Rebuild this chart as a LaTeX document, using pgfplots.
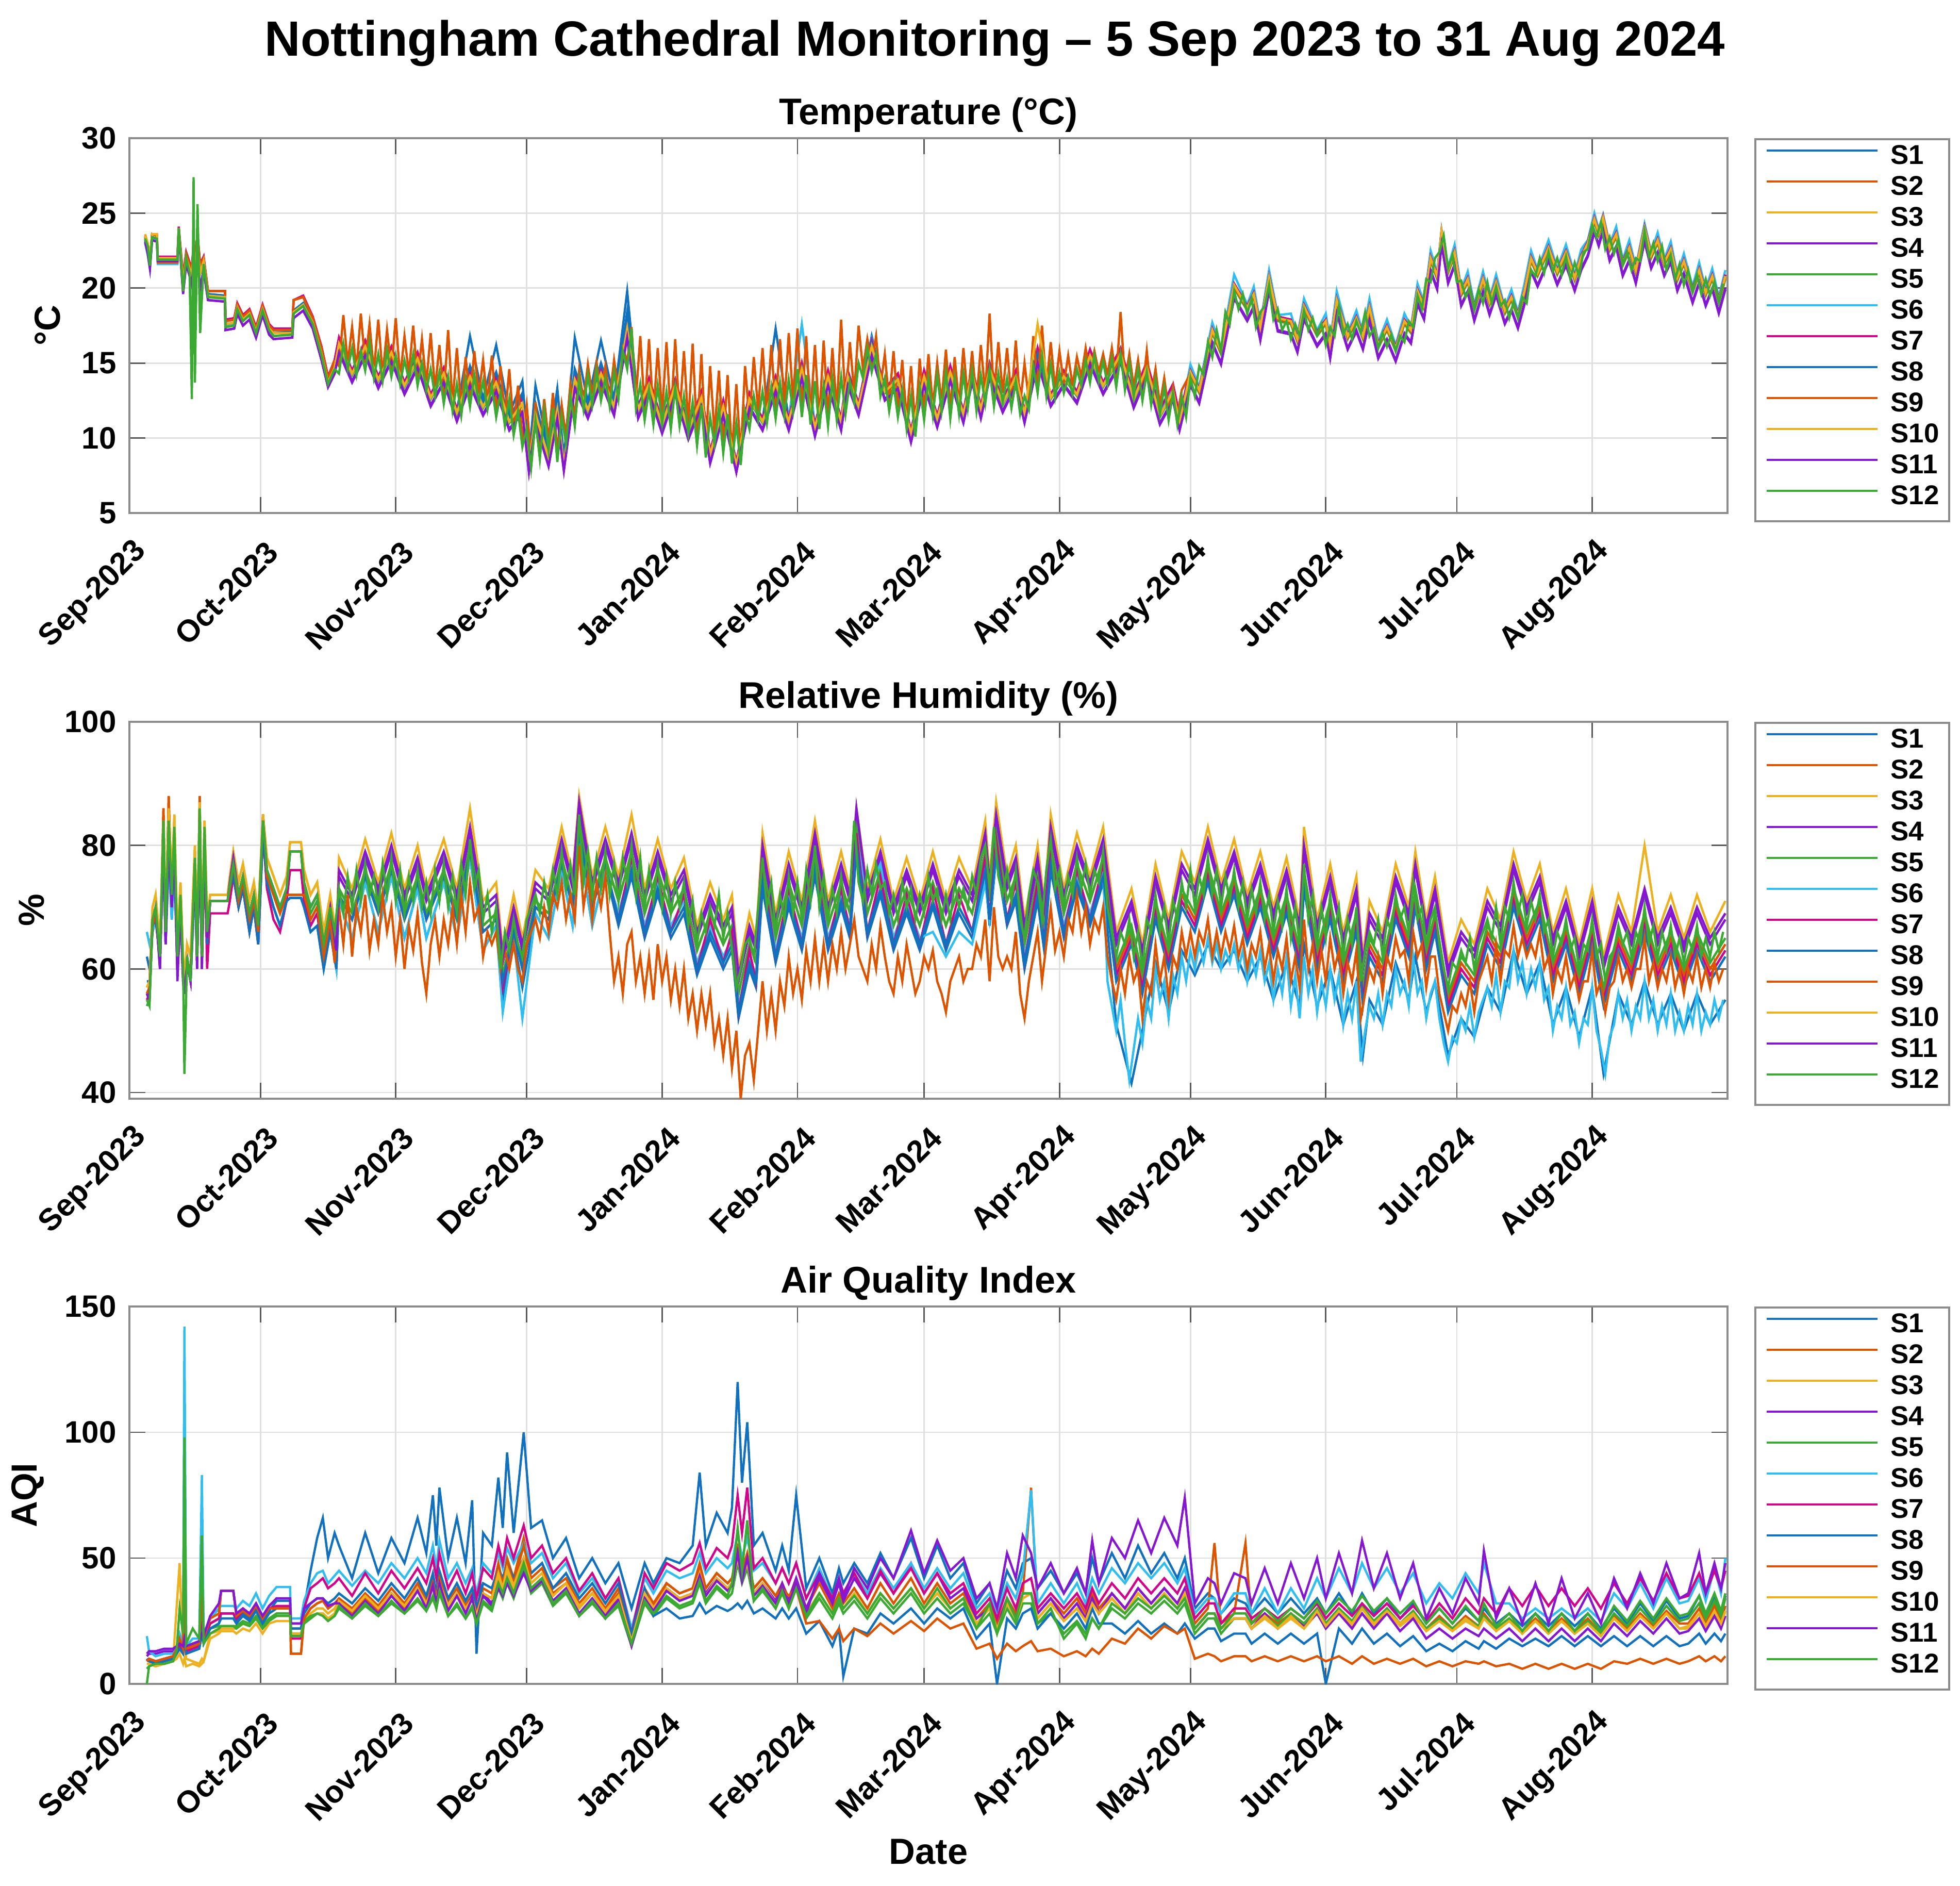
\documentclass[border=0pt]{standalone}
\usepackage{fontspec}
\setmainfont{Liberation Sans}
\usepackage{pgfplots}
\usepackage{pgfplotstable}
\pgfplotsset{compat=1.18}
\definecolor{c1}{rgb}{0.066,0.443,0.745}
\definecolor{c2}{rgb}{0.866,0.329,0}
\definecolor{c3}{rgb}{0.929,0.694,0.125}
\definecolor{c4}{rgb}{0.521,0.086,0.819}
\definecolor{c5}{rgb}{0.231,0.666,0.196}
\definecolor{c6}{rgb}{0.184,0.745,0.937}
\definecolor{c7}{rgb}{0.819,0.015,0.545}
\colorlet{c8}{c1}\colorlet{c9}{c2}\colorlet{c10}{c3}\colorlet{c11}{c4}\colorlet{c12}{c5}
\definecolor{axgrey}{rgb}{0.55,0.55,0.55}
\newcommand{\tickfont}{\fontsize{7.5}{9}\selectfont\bfseries}
\newcommand{\labfont}{\fontsize{8.8}{10}\selectfont\bfseries}
\newcommand{\legfont}{\fontsize{6.6}{7.5}\selectfont\bfseries}

\pgfplotstableread{
d s1 s2 s3 s4 s5 s6 s7 s8 s9 s10 s11 s12
3.6 23.3 23.4 23.6 23.0 23.4 23.0 23.5 23.2 23.4 23.5 23.1 23.3
4.2 22.6 22.9 23.0 22.4 22.8 22.2 22.9 22.6 22.9 23.0 22.3 22.8
4.7 21.6 21.8 21.9 21.4 21.5 21.3 21.8 21.6 21.8 21.9 21.3 21.5
5.2 23.4 23.6 23.6 23.2 23.4 23.3 23.6 23.4 23.6 23.6 23.2 23.4
6.3 23.3 23.5 23.6 23.1 23.3 23.2 23.5 23.3 23.5 23.6 23.1 23.3
6.5 21.9 21.8 22.0 21.8 21.9 21.6 22.1 21.9 21.7 22.0 21.8 21.9
11.0 21.9 21.8 22.0 21.8 21.9 21.6 22.1 21.9 21.7 22.0 21.8 21.9
11.3 23.8 23.9 24.0 23.8 24.0 23.6 24.1 23.8 23.9 24.0 23.7 24.0
12.3 20.5 20.6 20.3 19.6 19.8 20.4 20.8 20.5 20.6 20.3 19.7 19.8
13.0 22.2 22.3 22.0 21.6 22.0 22.1 22.4 22.2 22.3 22.0 21.6 22.0
13.8 21.5 21.6 21.3 20.8 21.0 21.4 21.7 21.5 21.6 21.3 20.8 21.0
14.3 21.0 21.2 20.8 20.2 14.0 21.0 21.3 21.0 21.2 20.8 20.2 12.6
14.7 22.5 22.8 22.4 21.8 25.0 22.6 23.0 22.5 22.8 22.4 21.8 27.4
15.0 21.5 21.8 21.4 20.8 16.0 21.6 22.0 21.5 21.8 21.4 20.8 13.7
15.6 22.8 23.6 22.8 22.0 24.0 23.0 23.5 22.8 23.6 22.8 22.0 25.6
16.2 21.0 21.5 21.0 20.0 19.0 21.2 21.6 21.0 21.5 21.0 20.0 17.0
17.0 21.8 22.0 21.8 21.2 21.6 21.9 22.1 21.8 22.0 21.8 21.2 21.6
18.0 19.6 19.8 19.5 19.2 19.4 19.5 19.8 19.6 19.8 19.5 19.2 19.4
21.9 19.5 19.8 19.4 19.1 19.3 19.4 19.8 19.5 19.8 19.4 19.1 19.3
22.0 17.6 17.8 17.6 17.2 17.4 17.5 17.9 17.6 17.8 17.6 17.2 17.4
24.0 17.7 17.9 17.7 17.3 17.5 17.6 18.0 17.7 17.9 17.7 17.3 17.5
24.7 18.8 18.9 18.7 18.3 18.6 18.8 19.0 18.8 18.9 18.7 18.3 18.6
26.0 18.0 18.1 17.9 17.5 17.8 18.0 18.2 18.0 18.1 17.9 17.5 17.8
27.5 18.4 18.5 18.3 17.9 18.2 18.4 18.6 18.4 18.5 18.3 17.9 18.2
29.0 17.2 17.3 17.1 16.7 17.0 17.2 17.4 17.2 17.3 17.1 16.7 17.0
30.5 18.7 18.8 18.6 18.2 18.5 18.7 18.9 18.7 18.8 18.6 18.2 18.5
32.0 17.4 17.5 17.3 16.9 17.2 17.4 17.6 17.4 17.5 17.3 16.9 17.2
33.0 17.0 17.2 17.0 16.6 16.8 17.0 17.3 17.0 17.2 17.0 16.6 16.8
37.3 17.1 17.2 17.0 16.7 16.9 17.1 17.3 17.1 17.2 17.0 16.7 16.9
37.6 18.5 19.2 18.4 18.0 18.3 18.5 19.2 18.5 19.2 18.4 18.0 18.3
39.8 19.0 19.4 18.9 18.5 18.8 19.0 19.5 19.0 19.4 18.9 18.5 18.8
42.0 17.8 18.0 17.7 17.3 17.6 17.8 18.1 17.8 18.0 17.7 17.3 17.6
44.0 15.7 16.0 15.6 15.2 15.5 15.7 16.1 15.7 16.0 15.6 15.2 15.5
45.5 13.8 14.0 13.7 13.4 13.6 13.8 14.1 13.8 14.0 13.7 13.4 13.6
47.0 14.8 15.2 14.7 14.3 14.6 14.8 15.2 14.8 15.2 14.7 14.3 14.6
48 16.4 16.7 16.3 15.8 16.2 16.5 16.7 16.3 18.4 16.3 15.7 16.2
51 14.4 14.4 14.3 13.8 14.2 14.5 14.5 14.3 14.6 14.3 13.7 14.2
54 16.2 16.5 16.1 15.6 16.0 16.3 16.5 16.1 17.8 16.1 15.5 16.0
57 14.0 14.0 13.9 13.4 13.8 14.1 14.1 13.9 14.2 13.9 13.3 13.8
60 15.8 16.1 15.7 15.2 15.6 15.9 16.1 15.7 18.0 15.7 15.1 15.6
63 13.6 13.6 13.5 13.0 13.4 13.7 13.7 13.5 13.8 13.5 12.9 13.4
66 15.4 15.7 15.3 14.8 15.2 15.5 15.7 15.3 17.0 15.3 14.7 15.2
69 12.8 12.8 12.7 12.2 12.6 12.9 12.9 12.7 13.0 12.7 12.1 12.6
72 14.4 14.7 14.3 13.8 14.2 14.5 14.7 14.3 17.2 14.3 13.7 14.2
75 11.8 11.8 11.7 11.2 11.6 11.9 11.9 11.7 12.0 11.7 11.1 11.6
78 16.8 14.5 14.1 13.6 14.0 14.6 14.5 14.8 15.5 14.1 13.5 14.0
81 12.6 12.2 12.1 11.6 12.0 12.3 12.3 12.3 12.4 12.1 11.5 12.0
84 16.2 14.1 13.7 13.2 13.6 14.2 14.1 14.4 15.2 13.7 13.1 13.6
87 11.6 11.2 11.1 10.6 11.0 11.3 11.3 11.3 11.4 11.1 10.5 11.0
90 13.8 12.7 12.3 11.8 12.2 12.8 12.7 13.0 13.0 12.3 11.7 12.2
91.5 8.6 8.2 8.1 7.8 8.0 8.3 8.3 8.3 8.4 8.1 7.7 8.0
93 13.5 12.0 11.6 11.1 11.5 12.1 12.0 12.3 12.2 11.6 11.0 11.5
96 9.2 8.8 8.7 8.2 8.6 8.9 8.9 8.9 9.0 8.7 8.1 8.6
98 13.3 12.3 11.9 11.4 11.8 12.4 12.3 12.6 12.5 11.9 11.3 11.8
99.5 8.7 8.3 8.2 7.9 8.1 8.4 8.4 8.4 8.5 8.2 7.8 8.1
102 16.7 14.3 13.9 13.4 13.8 14.4 14.3 14.6 14.5 13.9 13.3 13.8
105 12.4 12.0 11.9 11.4 11.8 12.1 12.1 12.1 12.2 11.9 11.3 11.8
108 16.5 14.7 14.3 13.8 14.2 14.8 14.7 15.0 15.0 14.3 13.7 14.2
111 12.6 12.2 12.1 11.6 12.0 12.3 12.3 12.3 12.4 12.1 11.5 12.0
114 19.8 17.7 17.3 16.8 17.2 17.8 17.7 18.4 18.0 17.3 16.7 17.2
116.5 12.2 12.0 11.9 11.4 11.8 12.1 12.1 12.0 12.2 11.9 11.3 11.8
119 13.7 14.0 13.6 13.1 13.5 13.8 14.0 13.6 16.8 13.6 13.0 13.5
122 11.0 11.0 10.9 10.4 10.8 11.1 11.1 10.9 11.2 10.9 10.3 10.8
125 13.6 13.9 13.5 13.0 13.4 13.7 13.9 13.5 16.6 13.5 12.9 13.4
128 10.6 10.6 10.5 10.0 10.4 10.7 10.7 10.5 10.8 10.5 9.9 10.4
131 12.8 13.1 12.7 12.2 12.6 12.9 13.1 12.7 16.3 12.7 12.1 12.6
133 9.0 9.0 8.9 8.4 8.8 9.1 9.1 8.9 9.2 8.9 8.3 8.8
136 12.2 12.5 12.1 11.6 12.0 12.3 12.5 12.1 14.5 12.1 11.5 12.0
139 8.3 8.3 8.2 7.8 8.1 8.4 8.4 8.2 8.5 8.2 7.7 8.1
142 12.7 13.0 12.6 12.1 12.5 12.8 13.0 12.6 14.8 12.6 12.0 12.5
145 11.2 11.2 11.1 10.6 11.0 11.3 11.3 11.1 11.4 11.1 10.5 11.0
148 17.3 14.1 13.7 13.2 13.6 14.0 14.1 13.8 16.2 13.7 13.1 13.6
151 11.2 11.2 11.1 10.6 11.0 11.3 11.3 11.1 11.4 11.1 10.5 11.0
154 14.8 15.0 14.6 14.1 14.5 17.6 15.0 14.7 17.3 14.6 14.0 14.5
157 10.8 10.8 10.7 10.2 10.6 10.9 10.9 10.7 11.0 10.7 10.1 10.6
160 14.2 14.5 14.1 13.6 14.0 14.3 14.5 14.1 16.5 14.1 13.5 14.0
163 11.2 11.2 11.1 10.6 11.0 11.3 11.3 11.1 11.4 11.1 10.5 11.0
164.5 14.2 14.5 14.1 13.6 14.0 14.3 14.5 14.1 17.9 14.1 13.5 14.0
167 12.2 12.2 12.1 11.6 12.0 12.3 12.3 12.1 12.4 12.1 11.5 12.0
170 16.8 16.5 16.1 15.6 16.0 16.6 16.5 16.3 16.6 16.1 15.5 16.0
173 13.2 13.2 13.1 12.6 13.0 13.3 13.3 13.1 13.4 13.1 12.5 13.0
176 14.0 14.3 13.9 13.4 13.8 14.1 14.3 13.9 15.8 13.9 13.3 13.8
179 10.4 10.4 10.3 9.8 10.2 10.5 10.5 10.3 10.6 10.3 9.7 10.2
182 14.2 14.5 14.1 13.6 14.0 14.3 14.5 14.1 15.6 14.1 13.5 14.0
185 11.4 11.4 11.3 10.8 11.2 11.5 11.5 11.3 11.6 11.3 10.7 11.2
188 14.5 14.8 14.4 13.9 14.3 14.6 14.8 14.4 16.0 14.4 13.8 14.3
191 11.7 11.7 11.6 11.1 11.5 11.8 11.8 11.6 11.9 11.6 11.0 11.5
193 14.4 14.7 14.3 13.8 14.2 14.5 14.7 14.3 15.8 14.3 13.7 14.2
195 12.0 12.0 11.9 11.4 11.8 12.1 12.1 11.9 12.2 11.9 11.3 11.8
197 14.7 15.0 14.6 14.1 14.5 14.8 15.0 14.6 18.3 14.6 14.0 14.5
200 12.4 12.4 12.3 11.8 12.2 12.5 12.5 12.3 12.6 12.3 11.7 12.2
203 14.2 14.5 14.1 13.6 14.0 14.3 14.5 14.1 16.5 14.1 13.5 14.0
205 11.7 11.7 11.6 11.1 11.5 11.8 11.8 11.6 11.9 11.6 11.0 11.5
208 15.7 16.0 15.6 15.1 15.5 15.8 16.0 15.6 17.5 17.6 15.0 15.5
211 12.8 12.8 12.7 12.2 12.6 12.9 12.9 12.7 13.0 12.7 12.1 12.6
214 14.2 14.5 14.1 13.6 14.0 14.3 14.5 14.1 15.5 14.1 13.5 14.0
217 13.0 13.0 12.9 12.4 12.8 13.1 13.1 12.9 13.2 12.9 12.3 12.8
220 15.6 15.9 15.5 15.0 15.4 15.7 15.9 15.5 16.0 15.5 14.9 15.4
223 13.6 13.6 13.5 13.0 13.4 13.7 13.7 13.5 13.8 13.5 12.9 13.4
227 15.7 16.0 15.6 15.1 15.5 15.8 16.0 15.6 18.4 15.6 15.0 15.5
230 12.7 12.7 12.6 12.1 12.5 12.8 12.8 12.6 12.9 12.6 12.0 12.5
233 14.8 15.1 14.7 14.2 14.6 14.9 15.1 14.7 15.8 14.7 14.1 14.6
236 11.6 11.6 11.5 11.0 11.4 11.7 11.9 11.5 11.8 11.5 10.9 11.4
239 13.2 13.4 13.1 12.6 13.0 13.3 13.6 13.1 13.4 13.1 12.5 13.0
240.5 11.1 11.1 11.0 10.6 10.9 11.2 11.5 11.0 11.3 11.0 10.5 10.9
243 14.5 14.4 14.3 13.6 14.2 14.9 14.5 14.4 14.3 14.4 13.5 14.2
245 13.3 13.2 13.1 12.4 13.0 13.4 13.3 13.2 13.1 13.2 12.3 13.0
248 17.3 17.2 17.1 16.4 17.0 17.7 17.3 17.2 17.1 17.2 16.3 17.0
250 15.9 15.8 15.7 15.0 15.6 16.0 15.9 15.8 15.7 15.8 14.9 15.6
253 20.3 20.2 20.1 19.4 20.0 20.9 20.3 20.2 20.1 20.2 19.3 20.0
256 18.8 18.7 18.6 17.9 18.5 18.9 18.8 18.7 18.6 18.7 17.8 18.5
257.5 19.7 19.6 19.5 18.8 19.4 20.1 19.7 19.6 19.5 19.6 18.7 19.4
259 17.5 17.4 17.3 16.6 17.2 17.6 17.5 17.4 17.3 17.4 16.5 17.2
261 20.8 20.7 20.6 19.9 20.5 21.2 20.8 20.7 20.6 20.7 19.8 20.5
263 18.1 18.0 17.9 17.2 17.8 18.2 18.1 18.0 17.9 18.0 17.1 17.8
266 17.9 17.8 17.7 17.0 17.6 18.3 17.9 17.8 17.7 17.8 16.9 17.6
267.5 16.7 16.6 16.5 15.8 16.4 16.8 16.7 16.6 16.5 16.6 15.7 16.4
269 18.9 18.8 18.7 18.0 18.6 19.3 18.9 18.8 18.7 18.8 17.9 18.6
272 17.1 17.0 16.9 16.2 16.8 17.2 17.1 17.0 16.9 17.0 16.1 16.8
274 17.9 17.8 17.7 17.0 17.6 18.3 17.9 17.8 17.7 17.8 16.9 17.6
275 16.3 16.2 16.1 15.4 16.0 16.4 16.3 16.2 16.1 16.2 15.3 16.0
276.5 19.3 19.2 19.1 18.4 19.0 19.8 19.3 19.2 19.1 19.2 18.3 19.0
279 16.9 16.8 16.7 16.0 16.6 17.0 16.9 16.8 16.7 16.8 15.9 16.6
281 18.1 18.0 17.9 17.2 17.8 18.5 18.1 18.0 17.9 18.0 17.1 17.8
282.5 16.9 16.8 16.7 16.0 16.6 17.0 16.9 16.8 16.7 16.8 15.9 16.6
284 18.8 18.7 18.6 17.9 18.5 19.3 18.8 18.7 18.6 18.7 17.8 18.5
286 16.3 16.2 16.1 15.4 16.0 16.4 16.3 16.2 16.1 16.2 15.3 16.0
288 17.5 17.4 17.3 16.6 17.2 17.9 17.5 17.4 17.3 17.4 16.5 17.2
290 16.1 16.0 15.9 15.2 15.8 16.2 16.1 16.0 15.9 16.0 15.1 15.8
292 17.9 17.8 17.7 17.0 17.6 18.3 17.9 17.8 17.7 17.8 16.9 17.6
293.5 17.3 17.2 17.1 16.4 17.0 17.4 17.3 17.2 17.1 17.2 16.3 17.0
295 19.9 19.8 19.7 19.0 19.6 20.3 19.9 19.8 19.7 19.8 18.9 19.6
296.5 18.9 18.8 18.7 18.0 18.6 19.0 18.9 18.8 18.7 18.8 17.9 18.6
298 22.1 22.0 21.9 21.2 21.8 22.5 22.1 22.0 21.9 22.0 21.1 21.8
299.5 20.9 20.8 20.7 20.0 20.6 21.0 20.9 20.8 20.7 20.8 19.9 20.6
300.5 23.8 23.7 23.7 23.0 23.6 23.9 23.8 23.7 23.7 23.8 22.9 23.6
302 21.3 21.2 21.1 20.4 21.0 21.4 21.3 21.2 21.1 21.2 20.3 21.0
303.5 22.5 22.4 22.3 21.6 22.2 22.9 22.5 22.4 22.3 22.4 21.5 22.2
305 19.8 19.7 19.6 18.9 19.5 19.9 19.8 19.7 19.6 19.7 18.8 19.5
306.5 20.7 20.6 20.5 19.8 20.4 21.1 20.7 20.6 20.5 20.6 19.7 20.4
308 18.8 18.7 18.6 17.9 18.5 18.9 18.8 18.7 18.6 18.7 17.8 18.5
310 20.7 20.6 20.5 19.8 20.4 21.1 20.7 20.6 20.5 20.6 19.7 20.4
311.5 19.2 19.1 19.0 18.3 18.9 19.3 19.2 19.1 19.0 19.1 18.2 18.9
313 20.5 20.4 20.3 19.6 20.2 20.9 20.5 20.4 20.3 20.4 19.5 20.2
315 18.6 18.5 18.4 17.7 18.3 18.7 18.6 18.5 18.4 18.5 17.6 18.3
316.5 19.5 19.4 19.3 18.6 19.2 19.9 19.5 19.4 19.3 19.4 18.5 19.2
318 18.3 18.2 18.1 17.4 18.0 18.4 18.3 18.2 18.1 18.2 17.3 18.0
319.5 19.9 19.8 19.7 19.0 19.6 20.3 19.9 19.8 19.7 19.8 18.9 19.6
321 22.1 22.0 21.9 21.2 21.8 22.5 22.1 22.0 21.9 22.0 21.1 21.8
322.5 21.1 21.0 20.9 20.2 20.8 21.2 21.1 21.0 20.9 21.0 20.1 20.8
325 22.8 22.7 22.6 21.9 22.5 23.2 22.8 22.7 22.6 22.7 21.8 22.5
327 21.2 21.1 21.0 20.3 20.9 21.3 21.2 21.1 21.0 21.1 20.2 20.9
329 22.5 22.4 22.3 21.6 22.2 22.9 22.5 22.4 22.3 22.4 21.5 22.2
331 20.8 20.7 20.6 19.9 20.5 20.9 20.8 20.7 20.6 20.7 19.8 20.5
332.5 22.2 22.1 22.0 21.3 21.9 22.6 22.2 22.1 22.0 22.1 21.2 21.9
334 23.1 23.0 22.9 22.2 22.8 23.2 23.1 23.0 22.9 23.0 22.1 22.8
335.5 24.7 24.6 24.5 23.8 24.4 25.0 24.7 24.6 24.5 24.6 23.7 24.4
336.5 23.8 23.7 23.6 22.9 23.5 23.9 23.8 23.7 23.6 23.7 22.8 23.5
337.5 24.8 24.7 24.6 23.9 24.5 24.9 24.8 24.7 24.6 24.7 23.8 24.5
339 22.8 22.7 22.6 21.9 22.5 22.9 22.8 22.7 22.6 22.7 21.8 22.5
340.5 23.7 23.6 23.5 22.8 23.4 24.1 23.7 23.6 23.5 23.6 22.7 23.4
342 21.8 21.7 21.6 20.9 21.5 21.9 21.8 21.7 21.6 21.7 20.8 21.5
343.5 22.8 22.7 22.6 21.9 22.5 23.2 22.8 22.7 22.6 22.7 21.8 22.5
345 21.3 21.2 21.1 20.4 21.0 21.4 21.3 21.2 21.1 21.2 20.3 21.0
347 24.1 24.0 23.9 23.2 23.8 24.3 24.1 24.0 23.9 24.0 23.1 23.8
348.5 22.3 22.2 22.1 21.4 22.0 22.4 22.3 22.2 22.1 22.2 21.3 22.0
350 23.3 23.2 23.1 22.4 23.0 23.7 23.3 23.2 23.1 23.2 22.3 23.0
351.5 21.8 21.7 21.6 20.9 21.5 21.9 21.8 21.7 21.6 21.7 20.8 21.5
353 22.7 22.6 22.5 21.8 22.4 23.1 22.7 22.6 22.5 22.6 21.7 22.4
354.5 20.8 20.7 20.6 19.9 20.5 20.9 20.8 20.7 20.6 20.7 19.8 20.5
356 21.9 21.8 21.7 21.0 21.6 22.3 21.9 21.8 21.7 21.8 20.9 21.6
358 20.0 19.9 19.8 19.1 19.7 20.1 20.0 19.9 19.8 19.9 19.0 19.7
359.5 21.3 21.2 21.1 20.4 21.0 21.7 21.3 21.2 21.1 21.2 20.3 21.0
361 19.8 19.7 19.6 18.9 19.5 19.9 19.8 19.7 19.6 19.7 18.8 19.5
362.5 20.9 20.8 20.7 20.0 20.6 21.3 20.9 20.8 20.7 20.8 19.9 20.6
364 19.3 19.2 19.1 18.4 19.0 19.4 19.3 19.2 19.1 19.2 18.3 19.0
365.5 20.9 20.8 20.7 20.0 20.6 21.2 20.9 20.8 20.7 20.8 19.9 20.6
}\temptab

% dense S12 temperature (daily low/high)
\pgfplotstableread{
d v
47 14.6
48 14.3
49 16.3
50 14.6
51 16.0
52 14.2
53 15.8
54 14.5
55 16.4
56 14.0
57 15.6
58 13.8
59 15.9
60 14.1
61 15.5
62 13.6
63 15.2
64 13.9
65 15.6
66 13.5
67 15.0
68 13.2
69 14.6
70 12.8
71 14.4
72 12.3
73 14.1
74 11.8
75 13.6
76 11.5
77 13.9
78 12.1
79 14.2
80 12.4
81 13.8
82 11.9
83 13.5
84 11.4
85 13.0
86 10.8
87 12.6
88 10.2
89 11.8
90 9.4
91 10.6
92 8.0
93 11.2
94 8.6
95 11.8
96 9.2
97 12.0
98 8.4
99 11.4
100 9.6
101 12.8
102 10.8
103 13.9
104 11.9
105 14.2
106 12.2
107 14.5
108 12.5
109 14.0
110 12.1
111 14.4
112 12.6
113 15.8
114 14.6
115 17.3
116 12.0
117 13.6
118 11.2
119 13.2
120 10.9
121 13.5
122 11.0
123 13.1
124 10.6
125 13.4
126 10.8
127 12.8
128 10.3
129 12.4
130 9.5
131 12.2
132 8.7
133 11.4
134 9.6
135 12.0
136 9.0
137 11.6
138 8.3
139 11.0
140 8.2
141 11.8
142 10.6
143 12.8
144 11.2
145 13.1
146 11.0
147 13.4
148 11.3
149 13.7
150 11.5
151 13.9
152 11.8
153 14.6
154 11.4
155 14.2
156 10.9
157 13.8
158 10.6
159 13.5
160 10.8
161 13.9
162 11.2
163 14.1
164 11.6
165 13.8
166 12.4
167 15.0
168 14.0
169 16.0
170 14.4
171 15.6
172 12.8
173 14.0
174 11.8
175 13.6
176 11.4
177 13.2
178 10.6
179 12.8
180 10.1
181 13.4
182 11.2
183 14.0
184 11.5
185 14.2
186 11.8
187 14.4
188 11.3
189 14.0
190 11.6
191 14.3
192 12.0
193 14.5
194 11.8
195 14.2
196 12.3
197 14.6
198 12.1
199 14.3
200 12.4
201 14.0
202 12.0
203 13.8
204 11.6
205 12.8
206 11.9
207 14.8
208 13.0
209 15.5
210 12.8
211 14.9
212 12.7
213 14.4
214 13.0
215 14.1
216 12.9
217 14.6
218 13.5
219 15.2
220 13.7
221 15.5
222 13.8
223 15.1
224 13.6
225 15.3
226 13.4
227 15.6
228 13.2
229 15.0
230 12.8
231 14.6
232 12.5
233 14.4
234 12.2
235 13.9
236 11.6
237 13.4
238 11.2
239 13.0
240 10.9
241 12.8
242 11.4
243 14.0
244 12.8
245 14.8
246 14.2
247 16.4
248 15.4
249 17.2
250 15.8
251 18.4
252 17.6
253 19.8
254 18.6
255 19.6
256 18.3
257 19.3
258 17.4
259 18.4
260 18.8
261 20.2
262 17.9
263 18.6
264 17.2
265 17.8
266 16.6
267 17.6
268 16.8
269 18.5
270 17.2
271 18.0
272 16.9
273 17.6
274 16.2
275 17.4
276 16.8
277 18.8
278 16.9
279 17.6
280 16.6
281 17.8
282 17.0
283 18.4
284 16.8
285 17.3
286 16.0
287 17.0
288 16.1
289 16.9
290 15.8
291 16.8
292 16.4
293 17.8
294 17.4
295 19.5
296 18.6
297 20.6
298 20.4
299 22.0
300 22.4
301 23.5
302 21.3
303 22.2
304 20.4
305 20.5
306 19.4
307 20.0
308 18.6
309 19.9
310 19.0
311 20.4
312 19.0
313 20.1
314 18.8
315 19.2
316 18.0
317 19.1
318 18.0
319 19.4
320 19.0
321 21.2
322 20.8
323 22.0
324 21.0
325 22.4
326 21.1
327 22.0
328 20.9
329 22.1
330 20.6
331 21.7
332 20.8
333 22.4
334 22.6
335 24.2
336 23.4
337 24.4
338 22.6
339 23.4
340 22.3
341 23.2
342 21.6
343 22.4
344 21.2
345 22.0
346 21.8
347 23.8
348 22.1
349 23.0
350 21.8
351 22.8
352 21.2
353 22.2
354 20.6
355 21.6
356 20.2
357 21.2
358 19.8
359 20.9
360 19.6
361 20.6
362 19.5
363 20.4
364 19.1
365 20.3
}\ttwelve

% dense S9 temperature, heating season
\pgfplotstableread{
d v
47 15.2
48 14.8
49 18.2
50 15.0
51 17.4
52 14.6
53 18.3
54 15.0
55 17.6
56 14.4
57 17.9
58 14.2
59 17.2
60 14.5
61 18.0
62 14.0
63 16.8
64 14.3
65 17.5
66 13.9
67 16.6
68 13.6
69 17.0
70 13.2
71 16.2
72 12.8
73 17.2
74 12.3
75 16.0
76 12.0
77 15.4
78 12.6
79 15.8
80 12.9
81 15.2
82 12.4
83 15.5
84 11.9
85 14.8
86 11.3
87 14.6
88 10.7
89 13.5
90 10.0
91 12.2
92 8.6
93 12.4
94 9.2
95 12.6
96 9.8
97 13.0
98 9.0
99 12.2
100 10.1
101 13.6
102 11.4
103 14.5
104 12.4
105 14.9
106 12.8
107 15.0
108 13.0
109 14.8
110 12.6
111 15.2
112 13.1
113 16.0
114 15.1
115 17.4
116 12.6
117 16.8
118 11.8
119 16.6
120 11.5
121 16.0
122 11.6
123 16.4
124 11.2
125 16.6
126 11.4
127 15.8
128 10.9
129 16.3
130 10.1
131 15.6
132 9.3
133 14.8
134 10.2
135 14.5
136 9.6
137 14.2
138 8.9
139 13.6
140 8.8
141 14.8
142 11.2
143 15.4
144 11.8
145 16.0
146 11.6
147 16.2
148 11.9
149 16.6
150 12.1
151 17.0
152 12.4
153 17.3
154 12.0
155 16.8
156 11.5
157 16.2
158 11.2
159 16.5
160 11.4
161 16.0
162 11.8
163 17.9
164 12.2
165 16.4
166 13.0
167 17.5
168 14.6
169 16.6
170 15.0
171 16.8
172 13.4
173 15.6
174 12.4
175 15.8
176 12.0
177 15.2
178 11.2
179 14.8
180 10.7
181 15.3
182 11.8
183 15.6
184 12.1
185 15.0
186 12.4
187 15.9
188 11.9
189 15.4
190 12.2
191 16.0
192 12.6
193 15.8
194 12.4
195 16.2
196 12.9
197 18.3
198 12.7
199 16.4
200 13.0
201 16.0
202 12.6
203 16.5
204 12.2
205 15.0
206 12.5
207 16.8
208 13.6
209 17.5
210 13.4
211 16.4
212 13.3
213 15.8
214 13.6
215 15.5
216 13.5
217 15.4
218 14.1
219 16.0
220 14.3
221 15.8
222 14.4
223 15.6
224 14.2
225 16.0
226 14.0
227 18.4
228 13.8
229 15.6
230 13.4
231 15.2
232 13.1
233 15.8
234 12.8
235 14.6
236 12.2
237 14.0
238 11.8
239 13.4
240 11.5
241 13.2
243 14.3
}\tnine

\pgfplotstableread{
d s1 s2 s3 s4 s5 s6 s7 s8 s9 s10 s11 s12
4.0 62 56 57 56 54 66 55 58 56 57 56 55
4.6 60 57 58 55 55 64 56 58 57 58 55 54
5.3 66 67 70 68 67 66 67 67 67 70 68 68
6.0 68 69 72 70 69 68 69 68 69 72 70 70
7.0 62 61 64 60 61 62 61 62 61 64 60 62
7.8 78 86 84 82 83 78 80 80 86 84 82 84
8.3 64 65 68 64 65 64 64 65 65 68 64 66
9.0 78 88 86 82 83 78 80 80 88 86 82 84
9.7 68 71 74 70 71 68 70 70 71 74 70 72
10.3 76 82 85 81 82 76 78 78 82 85 81 83
11.0 60 61 64 60 61 60 60 60 61 64 58 62
11.7 68 71 74 70 71 68 70 70 71 74 70 72
12.3 60 59 62 58 59 60 58 60 59 62 58 60
12.6 56 56 58 56 56 56 56 56 56 58 56 43
13.2 62 61 64 61 61 62 61 62 61 64 61 62
14.0 58 60 62 58 58 58 58 58 60 62 58 58
15.0 74 79 80 77 77 74 76 76 79 80 77 78
15.5 62 62 64 60 61 62 61 62 62 64 60 62
16.1 80 88 87 85 85 80 82 82 88 87 85 86
16.6 62 62 64 60 61 62 60 62 62 64 60 62
17.2 78 83 84 82 82 78 80 80 83 84 82 83
17.8 64 65 68 65 65 64 60 64 65 68 65 66
18.5 71 71 72 71 71 71 69 71 71 72 71 71
22.5 71 71 72 71 71 71 69 71 71 72 71 71
23.0 73 73 75 74 73 73 71 73 73 75 74 73.5
23.8 75 77 79 78 77 75 75 75 77 79 78 77
25.0 70 71 74 72 71 70 70 70 71 74 72 72
26.0 73 74 77 75 74 73 73 73 74 77 75 75
27.5 66 68 71 69 68 66 66 66 68 71 69 69
28.5 70 71 74 72 71 70 70 70 71 74 72 72
29.5 64 66 69 67 66 64 64 64 66 69 67 67
30.6 82 85 85 84 83 82 82 82 85 85 84 84
31.5 74 75 78 76 75 74 73 74 75 78 76 76
33.0 70 72 75 73 72 70 68 70 72 75 73 73
34.5 67 69 72 70 69 67 66 67 69 72 70 70
36.0 71 72 75 73 72 71 71 71 72 75 73 73
36.8 71.5 72 80.5 79 79 71.5 76 71.5 72 80.5 79 79
39.3 71.5 72 80.5 79 79 71.5 76 71.5 72 80.5 79 79
40.0 70 72 76 74 73 70 71 70 72 76 74 74
41.5 66 68 72 70 69 66 67 66 68 72 70 70
43.0 67 70 74 72 71 67 69 67 70 74 72 72
44.5 60 62 66 64 63 60 61 60 62 66 64 64
46.0 66 68 72 70 69 66 67 66 68 72 70 70
47.4 60 61 65 63 62 60 60 60 61 65 63 63
48 71 73 76 75 73 71 72 72 70 78 76 74
51 65 69 72 71 69 65 68 68 62 73 72 70
54 74 76 79 78 76 74 75 75 72 81 79 77
57 66 70 73 72 70 66 69 69 64 74 73 71
60 75 77 80 79 77 75 76 76 70 82 80 78
63 65 69 72 71 69 65 68 68 60 73 72 70
66 73 75 78 77 75 73 74 74 69 80 78 76
68 65 69 72 71 69 65 68 68 56 73 72 70
72 74 76 79 78 76 74 75 75 68 81 79 77
75 65 69 72 71 69 65 68 68 64 73 72 70
78 78 80 83 82 80 78 79 79 74 86 83 81
81 63 67 70 69 67 63 66 66 62 71 70 68
84 67 69 72 71 69 67 68 68 66 74 72 70
85.5 55 59 62 61 59 53 57 58 60 63 62 60
88 65 67 70 69 67 65 66 66 64 72 70 68
90 57 61 64 63 61 52 60 60 58 65 64 62
93 69 71 74 73 71 69 70 70 68 76 74 72
96 65 69 72 71 69 65 68 68 66 73 72 70
99 76 78 81 80 78 76 77 77 74 83 81 79
101.5 67 71 74 73 71 67 70 70 68 75 74 72
103 80 84 87 86 84 80 82 82 80 88 87 85
106 67 71 74 73 71 67 70 70 68 75 74 72
109 76 78 81 80 78 76 77 77 75 83 81 79
112 67 71 74 73 71 69 68 68 60 75 74 72
115 75 79 82 81 79 77 78 76 66 85 82 80
118 65 69 72 71 69 67 66 66 56 73 72 70
121 72 76 79 78 76 74 75 73 64 81 79 77
124 65 69 72 71 69 67 66 66 55 73 72 70
127 69 73 76 75 73 71 72 70 60 78 76 74
130 59 63 66 65 63 61 60 60 50 67 66 64
133 65 69 72 71 69 67 68 66 56 74 72 70
136 60 64 67 66 64 62 61 61 46 68 67 65
138 63 67 70 69 67 65 66 64 52 72 70 68
139.5 52 56 59 58 56 54 53 53 39 60 59 57
142 60 64 67 66 64 62 63 61 48 69 67 65
143.5 57 61 64 63 61 59 58 58 45 65 64 62
145 73 77 80 79 77 75 76 74 58 82 80 78
148 61 65 68 67 65 63 62 62 50 69 68 66
151 70 74 77 76 74 72 73 71 62 79 77 75
154 63 67 70 69 67 65 64 64 55 71 70 68
157 75 79 82 81 79 77 78 76 65 84 82 80
160 63 67 70 69 67 65 64 64 58 71 70 68
163 70 74 77 76 74 72 73 71 66 79 77 75
165 65 69 72 71 69 67 66 66 60 73 72 70
166.5 79 83 86 85 83 81 82 80 68 86 86 84
169 65 69 72 71 69 72 66 66 58 73 72 70
172 72 76 79 78 76 77 75 73 67 81 79 77
175 63 67 70 69 67 65 64 64 56 71 70 68
178 69 73 76 75 73 71 72 70 64 78 76 74
181 63 67 70 69 67 65 64 64 58 71 70 68
184 70 74 77 76 74 66 73 71 63 79 77 75
187 63 67 70 69 67 62 64 64 53 71 70 68
190 69 73 76 75 73 66 72 70 62 78 76 74
193 65 69 72 71 69 64 66 66 60 73 72 70
196 75 79 82 81 79 74 78 76 68 84 82 80
197 67 71 74 73 71 68 68 68 58 75 74 72
198.5 78 82 85 84 82 78 81 79 70 87 85 83
201 67 71 74 73 71 68 68 68 62 75 74 72
203 71 75 78 77 75 72 74 72 66 80 78 76
205 60 64 67 66 64 62 61 61 52 68 67 65
208 71 75 78 77 75 72 74 72 66 80 78 76
209.5 63 67 70 69 67 65 64 64 58 71 70 68
211 76 80 83 82 80 77 79 77 70 85 83 81
214 65 69 72 71 69 67 66 66 62 73 72 70
217 73 77 80 79 77 75 76 74 72 82 80 78
220 67 71 74 73 71 69 68 68 64 75 74 72
223 74 78 81 80 78 76 77 75 70 83 81 79
226 51 60 65 64 61 50 59 58 55 66 65 62
229.5 41.5 66 71 70 67 42 65 64 60 73 71 68
232 50 58 63 62 59 48 57 56 52 64 63 60
235 61 70 75 74 71 60 69 68 64 77 75 72
238 53 62 67 66 63 52 61 60 55 68 67 64
241 63 72 77 76 73 62 71 70 66 79 77 74
244 59 68 73 72 69 60 67 66 62 74 73 70
247 64 76 81 80 77 65 75 74 68 83 81 78
250 60 68 73 72 69 61 67 66 62 74 73 70
253 63 74 79 78 75 64 73 72 67 81 79 76
256 58 66 71 70 67 58 65 64 60 72 71 68
259 62 72 77 76 73 62 71 70 66 79 77 74
262 55 64 69 68 65 53 63 62 58 70 69 66
265 61 71 76 75 72 61 70 69 65 78 76 73
268 54 62 67 66 63 52 61 60 57 68 67 64
269 64 75 80 79 76 64 74 73 68 83 80 77
272 54 62 67 66 63 54 61 60 58 68 67 64
275 60 70 75 74 71 60 69 68 65 77 75 72
278 51 60 65 64 61 50 59 58 56 66 65 62
281 58 68 73 72 69 58 67 66 63 75 73 70
282.5 46 56 61 60 57 45 55 54 52 62 61 58
284 55 64 69 68 65 55 63 62 60 71 69 66
287 51 60 65 64 61 51 59 58 56 66 65 62
290 61 70 75 74 71 61 69 68 65 77 75 72
293 55 64 69 68 65 54 63 62 58 70 69 66
294.5 62 72 77 76 73 62 71 70 66 79 77 74
297 53 62 67 66 63 52 61 60 57 68 67 64
299 58 68 73 72 69 58 67 66 62 75 73 70
302 46 55 60 59 56 45 54 53 50 61 60 57
305 52 61 66 65 62 52 60 59 56 68 66 63
308 49 58 63 62 59 48 57 56 53 64 63 60
311 57 66 71 70 67 57 65 64 62 73 71 68
314 53 62 67 66 63 53 61 60 58 68 67 64
317 63 72 77 76 73 63 71 70 67 79 77 74
320 56 65 70 69 66 56 64 63 62 71 70 67
323 61 70 75 74 71 61 69 68 66 77 75 72
326 51 60 65 64 61 50 59 58 56 66 65 62
329 57 66 71 70 67 57 65 64 62 73 71 68
332 49 58 63 62 59 48 57 56 55 64 63 60
335 57 66 71 70 67 57 65 64 63 73 71 68
337.6 43 56 61 60 57 47 55 54 53 62 61 58
341 56 65 70 69 66 56 64 63 62 72 70 67
344 51 60 65 64 61 50 59 58 57 66 65 62
347 58 68 73 72 69 58 67 66 65 80 73 70
350 51 60 65 64 61 50 59 58 57 66 65 62
353 56 65 70 69 66 56 64 63 62 72 70 67
356 50 59 64 63 60 50 58 57 56 65 64 61
359 56 65 70 69 66 56 64 63 62 72 70 67
362 51 60 65 64 61 51 59 58 57 66 65 62
365.5 55 64 69 68 65 55 63 62 60 71 69 66
}\rhtab

% dense S12 RH
\pgfplotstableread{
d v
46 70
47 66
48 73
49 69
50 75
51 70
52 76
53 71
54 77
55 72
56 75
57 70
58 77
59 72
60 78
61 71
62 76
63 69
64 75
65 71
66 76
67 70
68 74
69 69
70 76
71 71
72 77
73 70
74 75
75 69
76 77
77 72
78 81
79 73
80 76
81 68
82 72
83 66
84 70
85 60
86 66
87 63
88 68
89 64
90 62
91 68
92 70
93 72
94 69
95 74
96 70
97 76
98 72
99 79
100 73
101 77
102 72
103 85
104 74
105 79
106 72
107 78
108 73
109 79
110 72
111 77
112 71
113 78
114 74
115 80
116 72
117 78
118 70
119 76
120 71
121 77
122 70
123 75
124 69
125 74
126 70
127 74
128 67
129 71
130 64
131 69
132 66
133 70
134 67
135 72
136 65
137 69
138 63
139 57
140 60
141 64
142 65
143 62
144 70
145 78
146 70
147 74
148 66
149 72
150 68
151 75
152 69
153 74
154 68
155 76
156 71
157 80
158 70
159 75
160 68
161 73
162 69
163 75
164 70
165 72
166 84
167 74
168 71
169 76
170 72
171 77
172 73
173 74
174 69
175 72
176 68
177 74
178 70
179 73
180 68
181 72
182 69
183 75
184 71
185 73
186 68
187 72
188 68
189 74
190 70
191 73
192 70
193 75
194 72
195 78
196 80
197 73
198 83
199 75
200 72
201 76
202 71
203 76
204 68
205 65
206 72
207 76
208 74
209 68
210 76
211 81
212 73
213 76
214 70
215 75
216 72
217 78
218 73
219 77
220 72
221 76
222 74
223 79
224 70
225 66
226 62
227 66
228 64
229 68
230 62
231 66
232 60
233 68
234 66
235 72
236 66
237 70
238 64
239 71
240 68
241 74
242 70
243 76
244 70
245 75
246 72
247 78
248 72
249 76
250 70
251 75
252 71
253 76
254 70
255 74
256 68
257 73
258 69
259 74
260 68
261 72
262 66
263 71
264 67
265 73
266 65
267 70
268 64
269 77
270 68
271 72
272 64
273 70
274 65
275 72
276 66
277 70
278 62
279 68
280 64
281 70
282 58
283 63
284 66
285 64
286 68
287 62
288 68
289 66
290 72
291 68
292 70
293 66
294 74
295 68
296 70
297 64
298 68
299 70
300 64
301 60
302 57
303 61
304 60
305 63
306 61
307 65
308 60
309 64
310 66
311 68
312 65
313 70
314 64
315 70
316 68
317 74
318 69
319 72
320 67
321 71
322 68
323 72
324 66
325 68
326 62
327 66
328 64
329 68
330 63
331 65
332 60
333 64
334 63
335 68
336 62
337 64
338 58
339 62
340 63
341 67
342 64
343 66
344 62
345 66
346 64
347 70
348 64
349 67
350 62
351 66
352 63
353 67
354 62
355 65
356 61
357 65
358 63
359 67
360 62
361 65
362 62
363 66
364 63
365 66
}\rhtwelve

% dense S9 RH
\pgfplotstableread{
d v
46 68
47 61
48 70
49 64
50 72
51 62
52 70
53 66
54 72
55 63
56 68
57 64
58 72
59 66
60 70
61 62
62 68
63 60
64 67
65 63
66 69
67 61
68 56
69 64
70 68
71 62
72 68
73 64
74 70
75 64
76 72
77 66
78 74
79 68
80 70
81 62
82 66
83 64
84 66
85 60
86 63
87 60
88 64
89 60
90 58
91 64
92 66
93 68
94 65
95 70
96 66
97 72
98 70
99 74
100 68
101 72
102 68
103 80
104 70
105 75
106 68
107 74
108 70
109 75
110 66
111 58
112 62
113 56
114 64
115 66
116 58
117 62
118 56
119 62
120 55
121 64
122 58
123 62
124 55
125 60
126 54
127 60
128 52
129 56
130 50
131 56
132 51
133 56
134 48
135 52
136 46
137 52
138 44
139 50
140 39
141 46
142 48
143 42
144 50
145 58
146 50
147 56
148 50
149 58
150 54
151 62
152 56
153 60
154 55
155 63
156 58
157 65
158 58
159 64
160 58
161 64
162 60
163 66
164 60
165 64
166 68
167 62
168 60
169 58
170 64
171 60
172 67
173 62
174 58
175 56
176 62
177 58
178 64
179 60
180 56
181 58
182 62
183 60
184 63
185 58
186 56
187 53
188 58
189 60
190 62
191 58
192 60
193 60
194 64
195 62
196 68
197 58
198 70
199 62
200 60
201 62
202 60
203 66
204 56
205 52
206 58
207 62
208 66
209 58
210 64
211 70
212 63
213 66
214 62
215 68
216 66
217 72
218 66
219 70
220 64
221 68
222 66
223 70
224 62
225 58
226 55
227 60
228 56
229 62
230 58
231 60
232 52
233 58
234 56
235 64
236 58
237 62
238 55
239 62
240 60
241 66
242 62
243 66
244 62
245 66
246 64
247 68
248 62
249 66
250 62
251 66
252 63
253 67
254 62
255 65
256 60
257 64
258 62
259 66
260 60
261 64
262 58
263 63
264 60
265 65
266 58
267 62
268 57
269 68
270 60
271 64
272 58
273 63
274 58
275 65
276 60
277 63
278 56
279 61
280 58
281 63
282 52
283 56
284 60
285 58
286 62
287 56
288 62
289 60
290 65
291 62
292 63
293 58
294 66
295 62
296 64
297 57
298 62
299 62
300 56
301 53
302 50
303 54
304 53
305 56
306 54
307 58
308 53
309 58
310 60
311 62
312 58
313 64
314 58
315 63
316 62
317 67
318 62
319 65
320 62
321 64
322 62
323 66
324 60
325 62
326 56
327 60
328 58
329 62
330 57
331 59
332 55
333 58
334 58
335 63
336 56
337 58
338 53
339 57
340 58
341 62
342 58
343 60
344 57
345 60
346 60
347 65
348 58
349 61
350 57
351 60
352 58
353 62
354 57
355 60
356 56
357 60
358 58
359 62
360 57
361 60
362 57
363 61
364 58
365 60
}\rhnine

% dense S6 RH from mid-April
\pgfplotstableread{
d v
223 76
224 58
225 54
226 50
227 55
228 48
229 42
230 47
231 52
232 48
233 55
234 52
235 60
236 55
237 58
238 52
239 59
240 56
241 62
242 58
243 63
244 60
245 64
246 61
247 65
248 61
249 64
250 60
251 63
252 61
253 64
254 60
255 63
256 58
257 62
258 59
259 63
260 58
261 61
262 55
263 60
264 56
265 62
266 54
267 59
268 52
269 62
270 56
271 60
272 53
273 58
274 54
275 60
276 55
277 59
278 51
279 56
280 52
281 58
282 45
283 50
284 54
285 52
286 56
287 51
288 56
289 54
290 60
291 56
292 58
293 54
294 62
295 56
296 58
297 52
298 56
299 58
300 52
301 48
302 45
303 49
304 48
305 52
306 50
307 54
308 49
309 53
310 55
311 57
312 54
313 59
314 53
315 58
316 57
317 63
318 58
319 61
320 56
321 60
322 57
323 61
324 55
325 57
326 50
327 54
328 52
329 57
330 51
331 53
332 48
333 52
334 51
335 57
336 50
337 47
338 43
339 49
340 51
341 56
342 52
343 55
344 50
345 54
346 52
347 58
348 52
349 55
350 50
351 54
352 51
353 56
354 50
355 53
356 50
357 54
358 51
359 56
360 50
361 53
362 51
363 55
364 52
365 55
}\rhsix

\pgfplotstableread{
d s1 s2 s3 s4 s5 s6 s7 s8 s9 s10 s11 s12
4.0 10 9 8 11 6 19 9 10 9 8 12 0
4.5 9 10 8 12 7 13 10 9 10 8 13 7
6.0 8 9 7 12 8 11 9 8 9 7 13 8
8.0 9 10 8 13 8 12 10 9 10 8 14 8
10.0 10 11 9 13 9 12 11 10 11 9 14 9
10.8 12 14 30 14 12 14 13 12 14 10 15 13
11.5 14 18 48 18 16 20 16 14 18 12 16 30
12.3 12 14 12 16 14 16 13 12 14 8 15 20
12.6 20 110 25 22 40 142 30 20 60 10 18 98
13.0 12 14 10 15 14 15 13 12 14 7 15 16
14.5 13 15 9 16 16 18 14 13 15 8 16 22
16.0 14 16 8 17 15 18 15 14 16 7 17 18
16.6 20 65 10 20 30 83 22 20 40 8 20 59
17.0 16 18 9 19 18 20 17 16 18 9 19 16
18.5 22 24 20 26 22 26 24 22 26 18 27 20
20.5 24 26 21 30 23 30 26 24 28 20 32 22
21.0 28 37 22 37 23 31 28 26 37 21 37 23
23.8 28 37 22 37 23 31 28 26 37 21 37 23
24.5 25 27 22 28 23 30 26 24 27 20 28 22
26.0 28 29 24 30 25 33 29 27 29 22 30 24
27.5 26 27 23 28 24 31 27 25 27 21 28 23
29.0 30 31 26 32 27 36 31 29 31 24 32 26
30.5 25 26 22 27 23 30 26 24 26 20 27 22
32.0 29 30 26 31 26 35 30 28 30 24 31 25
33.7 33 30 27 34 28 38.5 31 30 30 25 34 27
36.8 33 30 27 34 28 38.5 31 30 30 25 34 27
37.0 22 12 22 24 20 26 18 22 12 20 24 19
39.3 22 12 22 24 20 26 18 22 12 20 24 19
40.0 30 26 26 30 25 33 30 28 26 24 30 24
41.5 45 30 28 32 27 40 38 32 30 26 32 26
43.0 58 32 30 34 28 44 40 34 32 28 34 28
44.3 66 33 30 34 28 45 42 34 33 28 34 27
45.5 50 30 28 31 26 40 38 32 30 26 31 25
47.0 60 32 30 32 27 43 40 34 32 28 32 27
48 55 34 33 33 30 45 42 36 32 33 32 31
51 42 30 29 28 26 39 35 32 28 29 27 26
54 60 36 35 34 31 45 44 38 34 35 33 32
57 44 31 30 29 27 40 36 33 29 30 28 27
60 58 38 36 36 32 48 45 40 36 36 35 33
63 48 32 31 30 28 42 38 34 30 31 29 28
66 66 40 38 38 33 50 46 42 38 38 37 34
68 52 33 32 31 29 44 40 35 32 32 30 29
69.5 75 42 38 40 34 55 50 44 40 38 39 35
70.3 55 35 33 33 30 46 42 36 34 33 32 30
71 78 44 40 42 36 57 52 45 42 40 40 37
73 50 33 31 30 27 42 38 34 31 31 29 27
75 66 38 36 36 31 48 45 40 36 36 35 32
77 48 31 29 29 26 40 36 33 30 30 28 26
78.5 73 36 34 35 30 46 44 38 34 34 34 31
79.5 12 28 26 26 24 36 34 30 28 27 25 24
81 60 38 35 36 32 48 46 40 36 36 35 33
83 55 36 32 32 29 44 42 38 34 34 31 30
84.5 82 48 42 40 38 52 55 46 46 44 38 40
85.5 62 40 37 36 34 46 48 42 40 38 35 36
86.5 92 50 44 42 40 54 58 48 48 46 40 42
88 60 42 38 36 34 48 50 42 40 39 35 36
90.3 100 58 50 46 46 56 63 50 55 50 44 48
92 62 44 40 38 36 48 50 44 42 40 37 38
94.5 65 48 44 42 40 52 55 48 46 44 41 42
97 50 38 35 33 31 42 44 38 36 35 32 32
100 58 42 40 38 36 48 50 44 40 40 37 37
103 42 32 30 28 27 36 37 34 31 31 27 27
106 50 38 36 34 32 42 44 40 36 36 33 33
109 40 30 28 27 26 34 34 32 29 29 26 26
112 48 38 35 34 31 42 42 40 36 35 33 32
115 30 18 17 16 15 22 20 20 17 17 15 16
118 48 38 36 35 32 42 44 38 36 36 34 33
120 40 32 30 30 27 36 38 27 30 30 29 28
123 50 40 38 38 34 45 48 30 40 38 37 35
126 48 36 34 34 30 42 45 26 36 34 33 31
129 55 38 36 36 32 44 48 27 38 36 35 33
130.6 84 48 44 44 40 52 56 32 46 44 43 41
132 55 38 35 36 32 44 46 28 38 35 35 33
134.5 68 44 42 42 38 50 54 31 44 42 41 39
137 60 40 38 38 34 46 50 29 40 38 37 35
138 70 42 40 40 36 48 55 30 42 40 39 40
139.3 120 52 50 52 48 60 75 32 54 50 52 62
140.3 80 44 42 42 40 50 60 30 45 42 41 45
141.5 104 50 48 50 46 58 78 33 52 48 50 65
143 55 38 36 36 33 45 46 28 38 36 35 33
145 60 42 40 40 37 48 50 30 42 40 39 38
148 45 35 32 33 30 40 40 26 35 32 32 30
149.5 55 40 38 40 36 46 46 30 38 38 38 37
151 45 34 32 33 30 40 40 26 35 32 32 30
152.7 75 42 40 42 38 48 48 30 38 40 40 38
155 38 30 28 30 26 34 34 20 24 28 28 27
158 50 40 36 42 34 46 44 25 25 36 44 36
161 36 30 28 32 26 34 34 15 18 28 32 28
162.5 46 36 34 40 32 42 42 22 22 34 42 34
163.5 40 32 30 33 28 36 36 3 17 30 34 30
166 48 38 36 42 33 44 44 22 22 36 46 35
169 40 30 28 34 26 36 34 20 19 28 38 28
172 52 40 36 44 34 46 45 28 24 36 50 36
175 42 32 30 36 28 38 36 24 20 30 42 30
179 58 42 38 48 36 48 46 30 25 38 61 38
182 42 32 30 36 28 38 36 24 21 30 44 30
185 55 40 36 44 34 46 44 30 26 36 57 38
188 42 32 30 34 28 38 36 26 22 30 45 30
191 48 36 34 38 32 44 40 30 24 34 50 34
194 32 26 24 26 22 30 28 18 14 24 34 22
197 40 32 30 30 28 36 34 24 16 30 40 32
198.7 30 24 22 22 20 28 26 0 10 22 30 20
201 45 34 32 34 30 40 38 26 16 32 52 34
203 38 28 26 26 24 34 30 22 13 26 42 26
204.6 48 36 34 36 32 44 40 28 15 34 59 36
206.5 50 78 36 36 32 77 42 30 17 36 52 36
208 38 28 26 28 24 32 30 22 13 26 38 24
211 45 34 32 34 28 40 36 28 14 32 48 30
214 36 28 25 26 20 32 30 22 11 25 36 18
217 44 34 30 32 25 40 36 28 13 30 46 24
219 36 28 25 26 20 32 30 22 11 25 36 18
220.5 50 36 32 34 26 42 38 30 14 32 57 26
222 40 30 28 28 22 36 32 24 12 28 40 22
225 52 36 34 36 30 46 40 24 18 34 58 32
228 42 30 28 30 26 40 34 20 16 28 50 28
231 55 38 36 38 32 48 42 25 22 36 65 34
234 44 32 30 32 28 42 36 20 18 30 52 30
237 52 38 36 38 33 48 42 24 23 36 66 35
240 42 32 30 32 28 40 36 20 20 30 55 30
241.7 50 38 36 38 32 46 42 24 22 36 74 34
244 30 24 22 22 20 28 26 18 10 22 32 22
247 36 30 28 28 26 34 32 22 12 28 42 28
248.5 34 56 28 28 26 34 32 22 11 28 40 28
250 28 24 22 22 20 28 24 17 9 22 32 22
253 34 28 26 26 26 36 30 20 11 26 44 28
255.6 32 56 26 26 26 36 30 20 11 26 42 28
257 28 24 22 22 22 28 26 16 9 22 32 24
260 34 28 26 28 27 38 30 20 11 27 46 30
263 28 24 22 22 23 28 26 16 9 22 32 25
266 34 28 26 28 28 38 30 20 11 27 48 30
269 28 24 22 23 24 30 26 16 9 22 34 26
272 34 30 28 28 30 42 32 20 11 29 50 33
274 28 24 22 22 24 34 26 0 9 23 34 28
277 36 30 28 28 30 46 32 22 11 29 52 34
280 28 24 23 22 25 36 27 16 8 24 36 29
282.3 36 30 28 28 31 48 32 22 11 30 57 35
285 28 24 23 22 25 38 27 16 8 24 38 29
288 34 30 28 28 30 46 32 20 10 29 52 34
291 26 24 23 21 24 36 26 15 8 24 34 28
294 32 29 27 26 29 44 31 19 10 28 48 33
297 24 22 21 18 22 32 25 13 7 21 26 24
300 30 27 25 22 26 40 32 16 9 25 38 30
303 24 22 21 18 22 34 26 13 7 21 28 24
306 30 27 25 22 26 44 34 17 9 26 42 31
309 25 23 22 19 23 36 28 14 8 22 32 25
310.2 30 28 26 22 27 48 34 17 9 26 53 32
313 24 22 21 18 22 32 28 14 7 21 26 23
316 28 26 25 22 26 32 38 18 8 25 38 28
319 23 21 20 17 20 26 31 15 6 20 24 21
322 28 26 25 22 25 30 39 18 8 25 40 28
325 23 21 20 17 20 26 31 15 6 20 24 21
328 28 26 25 22 25 30 38 19 8 25 42 28
331 23 21 20 17 20 26 31 15 6 20 26 21
334 28 26 24 22 25 30 38 19 8 24 36 28
337 22 20 19 17 20 25 30 15 6 19 24 21
340 30 27 26 24 28 36 40 19 9 26 42 31
343 24 22 21 19 23 30 32 15 8 21 30 25
346 32 28 27 25 30 40 42 19 10 27 44 33
349 25 23 22 20 24 30 33 15 8 22 32 26
352 33 29 28 26 31 42 44 19 10 28 48 34
355 26 24 22 20 25 32 34 15 8 22 34 27
357 27 24 22 21 26 33 35 16 9 23 36 28
359.5 35 30 28 26 32 42 44 20 11 28 52 35
361 27 24 22 21 26 33 36 16 9 23 36 28
363 35 31 29 27 33 46 45 20 11 29 48 36
364.5 28 25 23 22 27 36 38 17 9 24 38 29
365.5 35 31 29 27 34 50 45 20 11 29 48 36
}\aqitab

\pgfplotsset{
  panel/.style={
    scale only axis, width=387.5pt, xmin=0, xmax=366,
    xtick={0,30,61,91,122,153,182,213,243,274,304,335},
    xticklabels={Sep-2023,Oct-2023,Nov-2023,Dec-2023,Jan-2024,Feb-2024,Mar-2024,Apr-2024,May-2024,Jun-2024,Jul-2024,Aug-2024},
    xticklabel style={font=\tickfont, inner sep=0pt, xshift=3.1pt, yshift=-8.1pt, rotate=45, anchor=east},
    yticklabel style={font=\tickfont, inner sep=0pt, xshift=-3pt},
    /pgf/number format/assume math mode=true,
    grid=major, grid style={draw=black!12, line width=0.35pt},
    axis line style={draw=axgrey, line width=0.55pt},
    major tick style={draw=black!65, line width=0.35pt},
    major tick length=3.9pt, tick align=inside,
    every axis title/.style={at={(0.5,1)}, anchor=base, yshift=3.3pt, font=\fontsize{9}{10}\selectfont\bfseries},
    every axis y label/.style={rotate=90, anchor=center, font=\labfont},
    every axis x label/.style={at={(axis description cs:0.5,0)}, anchor=center, yshift=-40.75pt, font=\labfont},
    legend style={at={(1,1)}, anchor=north west, xshift=6.5pt, draw=axgrey, line width=0.5pt, font=\legfont, inner xsep=2.4pt, inner ysep=1.3pt, row sep=0pt, column sep=2.9pt, nodes={inner sep=0pt, text height=4.8pt, text depth=2.7pt}},
    legend cell align=left,
    legend image code/.code={\draw[#1, line width=0.6pt] (0pt,2.3pt) -- (26.9pt,2.3pt);},
    every axis plot/.append style={line width=0.55pt, mark=none},
  }
}

\begin{document}
\begin{tikzpicture}
\path[use as bounding box] (0pt,0pt) rectangle (475.25pt,457.125pt);
\node[font=\fontsize{12}{14}\selectfont\bfseries, anchor=base] at (241.25pt,443.6pt) {Nottingham Cathedral Monitoring \textendash{} 5 Sep 2023 to 31 Aug 2024};

\begin{axis}[panel, at={(31.375pt,332.75pt)}, anchor=south west, height=90.875pt,
  ymin=5, ymax=30, ytick={5,10,15,20,25,30},
  title={Temperature (°C)}, ylabel={°C}, ylabel style={at={(axis description cs:-0.0513,0.5)}}]
\pgfplotsinvokeforeach{1,...,8}{\addplot[c#1] table[x=d,y=s#1]{\temptab};}
\addplot[c9, restrict x to domain=0:47] table[x=d,y=s9]{\temptab};
\addplot[c9, forget plot] table[x=d,y=v]{\tnine};
\addplot[c9, forget plot, restrict x to domain=243:366] table[x=d,y=s9]{\temptab};
\addplot[c10] table[x=d,y=s10]{\temptab};
\addplot[c11] table[x=d,y=s11]{\temptab};
\addplot[c12, restrict x to domain=0:47] table[x=d,y=s12]{\temptab};
\addplot[c12, forget plot] table[x=d,y=v]{\ttwelve};
\legend{S1,S2,S3,S4,S5,S6,S7,S8,S9,S10,S11,S12}
\end{axis}

\begin{axis}[panel, at={(31.375pt,190.75pt)}, anchor=south west, height=91.375pt,
  ymin=39, ymax=100, ytick={40,60,80,100},
  title={Relative Humidity (\%)}, ylabel={\%}, ylabel style={at={(axis description cs:-0.0613,0.5)}}]
\pgfplotsinvokeforeach{1,...,5}{\addplot[c#1] table[x=d,y=s#1]{\rhtab};}
\addplot[c6, restrict x to domain=0:223] table[x=d,y=s6]{\rhtab};
\addplot[c6, forget plot] table[x=d,y=v]{\rhsix};
\addplot[c7] table[x=d,y=s7]{\rhtab};
\addplot[c8] table[x=d,y=s8]{\rhtab};
\addplot[c9, restrict x to domain=0:46] table[x=d,y=s9]{\rhtab};
\addplot[c9, forget plot] table[x=d,y=v]{\rhnine};
\addplot[c10] table[x=d,y=s10]{\rhtab};
\addplot[c11] table[x=d,y=s11]{\rhtab};
\addplot[c12, restrict x to domain=0:46] table[x=d,y=s12]{\rhtab};
\addplot[c12, forget plot] table[x=d,y=v]{\rhtwelve};
\legend{S1,S2,S3,S4,S5,S6,S7,S8,S9,S10,S11,S12}
\end{axis}

\begin{axis}[panel, at={(31.375pt,48.875pt)}, anchor=south west, height=91.5pt,
  ymin=0, ymax=150, ytick={0,50,100,150},
  title={Air Quality Index}, ylabel={AQI}, ylabel style={at={(axis description cs:-0.0635,0.5)}},
  xlabel={Date}]
\pgfplotsinvokeforeach{1,...,12}{\addplot[c#1] table[x=d,y=s#1]{\aqitab};}
\legend{S1,S2,S3,S4,S5,S6,S7,S8,S9,S10,S11,S12}
\end{axis}
\end{tikzpicture}
\end{document}
